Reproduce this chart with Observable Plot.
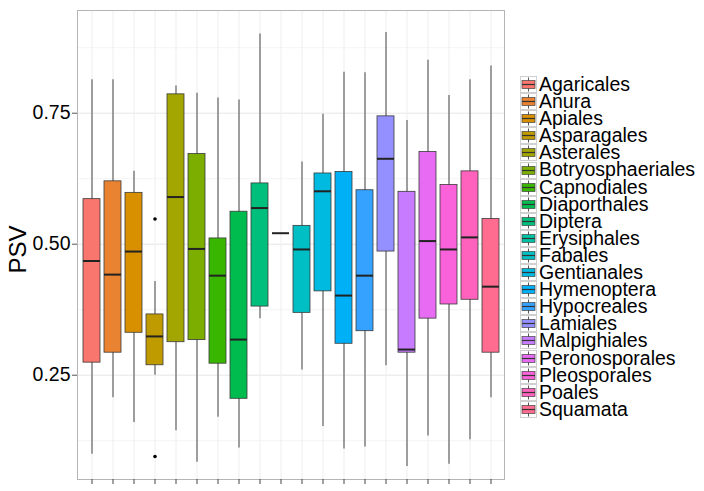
<!DOCTYPE html>
<html>
<head>
<meta charset="utf-8">
<script src="https://cdn.jsdelivr.net/npm/d3@7"></script>
<script src="https://cdn.jsdelivr.net/npm/@observablehq/plot@0.6"></script>
<style>
  html, body { margin: 0; padding: 0; background: #fff; }
  #wrap { position: relative; width: 704px; height: 491px; font-family: "Liberation Sans", Arial, Helvetica, sans-serif; }
  #chart { position: absolute; left: 0; top: 0; }
  #legend { position: absolute; left: 520px; top: 76px; }
  .item { display: flex; align-items: center; height: 17.1px; font-size: 19.5px; line-height: 17.1px; color: #000; white-space: nowrap; }
  .item svg { flex: none; margin-right: 2px; }
</style>
</head>
<body>
<div id="wrap"><div id="chart"></div><div id="legend"></div></div>
<script>
const categories = ["Agaricales","Anura","Apiales","Asparagales","Asterales","Botryosphaeriales","Capnodiales","Diaporthales","Diptera","Erysiphales","Fabales","Gentianales","Hymenoptera","Hypocreales","Lamiales","Malpighiales","Peronosporales","Pleosporales","Poales","Squamata"];
const whiskerLow  = [0.099,0.207,0.160,0.250,0.144,0.084,0.170,0.111,0.358,0.521,0.260,0.152,0.109,0.113,0.268,0.076,0.134,0.080,0.127,0.207];
const q1          = [0.274,0.293,0.331,0.269,0.313,0.317,0.272,0.205,0.381,0.521,0.369,0.410,0.310,0.334,0.486,0.293,0.358,0.385,0.394,0.293];
const median      = [0.468,0.442,0.486,0.324,0.590,0.491,0.440,0.318,0.569,0.521,0.490,0.601,0.402,0.440,0.663,0.299,0.506,0.490,0.513,0.419];
const q3          = [0.586,0.620,0.598,0.366,0.786,0.672,0.511,0.562,0.616,0.521,0.535,0.635,0.638,0.603,0.744,0.600,0.676,0.613,0.639,0.548];
const whiskerHigh = [0.814,0.814,0.639,0.429,0.802,0.788,0.779,0.775,0.901,0.521,0.657,0.748,0.828,0.827,0.904,0.736,0.851,0.784,0.814,0.840];
const outlierCategory = ["Asparagales","Asparagales"];
const outlierValue    = [0.548,0.095];
const colors = ["#F8766D","#EA8331","#D89000","#C09B00","#A3A500","#7CAE00","#39B600","#00BB4E","#00BF7D","#00C1A3","#00BFC4","#00BAE0","#00B0F6","#35A2FF","#9590FF","#C77CFF","#E76BF3","#FA62DB","#FF62BC","#FF6C90"];
const majorTicks = [0.25,0.5,0.75];
const minorTicks = [0.125,0.375,0.625,0.875];
const yLabel = "PSV";

const boxes = categories.map((c,i) => ({c, lo: whiskerLow[i], q1: q1[i], med: median[i], q3: q3[i], hi: whiskerHigh[i]}));
const outliers = outlierCategory.map((c,i) => ({c, v: outlierValue[i]}));

const plot = Plot.plot({
  width: 514,
  height: 491,
  marginLeft: 77,
  marginRight: 10,
  marginTop: 10,
  marginBottom: 12,
  style: {fontFamily: '"Liberation Sans", Arial, Helvetica, sans-serif', background: "#fff", color: "#000"},
  x: {type: "band", domain: categories, paddingInner: 0.2, paddingOuter: 0.2, axis: null},
  y: {domain: [0.051, 0.946], axis: null},
  color: {domain: categories, range: colors},
  marks: [
    Plot.ruleY(minorTicks, {stroke: "#f4f4f4", strokeWidth: 1}),
    Plot.ruleY(majorTicks, {stroke: "#e6e6e6", strokeWidth: 1}),
    Plot.ruleX(categories, {x: d => d, stroke: "#eeeeee", strokeWidth: 1}),
    Plot.ruleX(boxes, {x: "c", y1: "lo", y2: "hi", stroke: "#555", strokeWidth: 1.1}),
    Plot.barY(boxes, {x: "c", y1: "q1", y2: "q3", fill: "c", stroke: "#3a3a3a", strokeWidth: 0.8}),
    Plot.tickY(boxes, {x: "c", y: "med", stroke: "#222", strokeWidth: 2}),
    Plot.dot(outliers, {x: "c", y: "v", r: 1.8, fill: "#000", stroke: null}),
    Plot.frame({stroke: "#b5b5b5", strokeWidth: 1}),
    Plot.axisY(majorTicks, {tickFormat: d3.format(".2f"), tickSize: 5, tickPadding: 2, fontSize: 19.5, stroke: "#555", label: null}),
    Plot.axisX(categories, {tickFormat: () => "", tickSize: 5, stroke: "#444", label: null}),
    Plot.text([yLabel], {frameAnchor: "left", textAnchor: "middle", dx: -59, dy: 4.5, rotate: -90, fontSize: 24, fill: "#000"})
  ]
});
document.getElementById("chart").appendChild(plot);

const legend = document.getElementById("legend");
categories.forEach((c, i) => {
  const div = document.createElement("div");
  div.className = "item";
  div.innerHTML = `<svg width="17" height="17" viewBox="0 0 17 17">
    <rect x="0.5" y="0.5" width="16" height="16" fill="#fff" stroke="#d0d0d0"/>
    <line x1="8.5" x2="8.5" y1="1.5" y2="15.5" stroke="#555" stroke-width="1"/>
    <rect x="2" y="4.5" width="13" height="8" fill="${colors[i]}" stroke="#444" stroke-width="0.7"/>
    <line x1="2" x2="15" y1="8.5" y2="8.5" stroke="#333" stroke-width="1.2"/>
  </svg><span>${c}</span>`;
  legend.appendChild(div);
});
</script>
</body>
</html>
